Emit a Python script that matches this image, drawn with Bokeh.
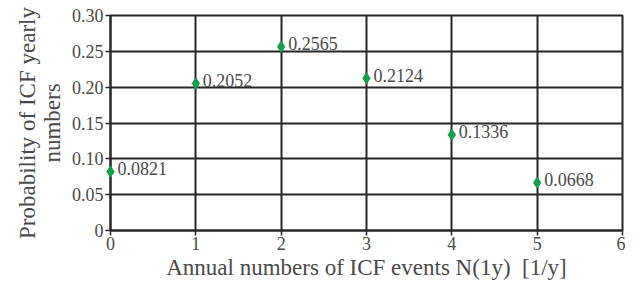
from bokeh.plotting import figure
from bokeh.models import ColumnDataSource, Range1d, FixedTicker, LabelSet
from bokeh.embed import file_html
from bokeh.resources import INLINE

events = [0, 1, 2, 3, 4, 5]
probs = [0.0821, 0.2052, 0.2565, 0.2124, 0.1336, 0.0668]
labels = ["0.0821", "0.2052", "0.2565", "0.2124", "0.1336", "0.0668"]
x_ticks = [0, 1, 2, 3, 4, 5, 6]
y_ticks = [0, 0.05, 0.10, 0.15, 0.20, 0.25, 0.30]
y_tick_labels = ["0", "0.05", "0.10", "0.15", "0.20", "0.25", "0.30"]

FONT = "Liberation Serif"
TXT = "#4a4a4a"
DARK = "#262626"

p = figure(width=625, height=282, output_backend="svg", toolbar_location=None,
           x_range=Range1d(0, 6), y_range=Range1d(0, 0.30),
           min_border_left=110, min_border_right=3, min_border_top=15, min_border_bottom=46)
p.background_fill_color = "white"
p.outline_line_color = DARK
p.outline_line_width = 2

p.xaxis.ticker = FixedTicker(ticks=x_ticks)
p.yaxis.ticker = FixedTicker(ticks=y_ticks)
p.yaxis.major_label_overrides = {t: l for t, l in zip(y_ticks, y_tick_labels)}

for ax in (p.xaxis[0], p.yaxis[0]):
    ax.axis_line_color = DARK
    ax.axis_line_width = 2
    ax.major_tick_line_color = DARK
    ax.major_tick_line_width = 1.5
    ax.major_tick_out = 5
    ax.major_tick_in = 0
    ax.minor_tick_line_color = None
    ax.major_label_text_font = FONT
    ax.major_label_text_font_size = "18px"
    ax.major_label_text_color = TXT
    ax.axis_label_text_font = FONT
    ax.axis_label_text_font_size = "23px"
    ax.axis_label_text_color = TXT
    ax.axis_label_text_font_style = "normal"

p.xaxis.axis_label = "Annual numbers of ICF events N(1y)\u2002[1/y]"
p.yaxis.axis_label = "Probability of ICF yearly\nnumbers"
p.yaxis.axis_label_text_line_height = 1.0
p.xaxis.major_label_standoff = 1
p.yaxis.major_label_standoff = 2
p.xaxis.axis_label_standoff = 2
p.yaxis.axis_label_standoff = 4

for g in (p.xgrid[0], p.ygrid[0]):
    g.grid_line_color = DARK
    g.grid_line_width = 2
    g.grid_line_alpha = 1.0
p.xgrid.ticker = FixedTicker(ticks=x_ticks)
p.ygrid.ticker = FixedTicker(ticks=y_ticks)

src = ColumnDataSource(dict(x=events, y=probs, lab=labels))
p.scatter("x", "y", source=src, marker="diamond", size=11, fill_color="#12a04c",
          line_color="#12a04c", level="overlay")
ls = LabelSet(x="x", y="y", text="lab", source=src, x_offset=7, y_offset=3,
              text_font=FONT, text_font_size="18px", text_color=TXT,
              text_baseline="middle")
p.add_layout(ls)

open("out.html", "w").write(file_html(p, INLINE))
